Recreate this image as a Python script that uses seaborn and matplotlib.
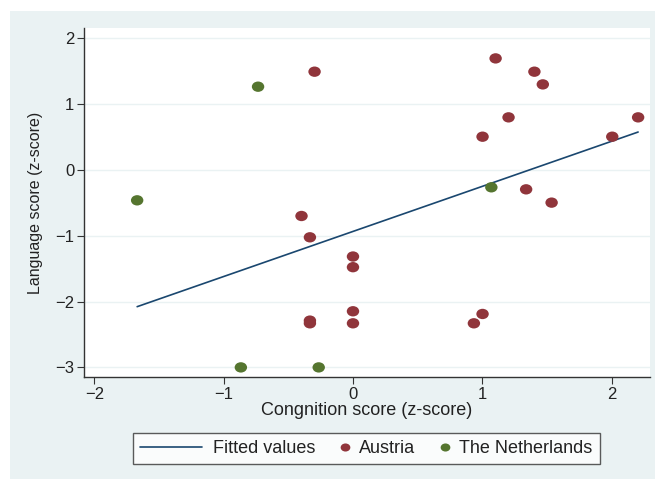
import numpy as np
import pandas as pd
import matplotlib
matplotlib.use("Agg")
import matplotlib.pyplot as plt
from matplotlib.patches import Rectangle
from matplotlib.lines import Line2D
from matplotlib.path import Path
from matplotlib.transforms import Affine2D
from matplotlib.legend_handler import HandlerLine2D
import seaborn as sns

# Standardised scores per child, by country
austria_cog = [-0.297, 1.103, 1.403, 1.468, 1.203, 2.205, 1.002, 2.005, 1.339, 1.536,
               -0.398, -0.333, 0.0, 0.0, 0.0, 0.0, -0.333, -0.333, 1.002, 0.935]
austria_lang = [1.494, 1.696, 1.494, 1.301, 0.80, 0.80, 0.506, 0.506, -0.294, -0.496,
                -0.699, -1.023, -1.315, -1.477, -2.147, -2.330, -2.289, -2.330, -2.188, -2.330]
nl_cog = [-1.669, -0.734, 1.070, -0.867, -0.265]
nl_lang = [-0.461, 1.266, -0.263, -3.0, -3.0]

x_ticks = [-2, -1, 0, 1, 2]
y_ticks = [-3, -2, -1, 0, 1, 2]

df = pd.DataFrame({
    "cog": austria_cog + nl_cog,
    "lang": austria_lang + nl_lang,
    "country": ["Austria"] * len(austria_cog) + ["The Netherlands"] * len(nl_cog),
})

BG = "#EAF2F3"
NAVY = "#1A476F"
MAROON = "#90353B"
FOREST = "#55752F"
INK = "#222222"

# slightly wide dot, as in the exported graph
DOT = Path.unit_circle().transformed(Affine2D().scale(1.2, 1.0))

sns.set_theme(style="white")
plt.rcParams["font.family"] = ["Liberation Sans", "DejaVu Sans"]

fig = plt.figure(figsize=(6.55, 4.79), dpi=100)
fig.patch.set_facecolor("white")
fig.add_artist(Rectangle((10 / 655, 0), 1 - 10 / 655, 1 - 11 / 479,
                         transform=fig.transFigure, facecolor=BG,
                         edgecolor="none", zorder=-10))

ax = fig.add_axes([84 / 655, 1 - 377 / 479, (649.5 - 84) / 655, (377 - 28) / 479])
ax.set_facecolor("white")

# Linear fit over the pooled sample
sns.regplot(data=df, x="cog", y="lang", ax=ax, scatter=False, ci=None,
            truncate=True, line_kws=dict(color=NAVY, lw=1.2))

sns.scatterplot(data=df, x="cog", y="lang", hue="country", ax=ax,
                palette={"Austria": MAROON, "The Netherlands": FOREST},
                marker=DOT, s=80, edgecolor="none", legend=False, zorder=3)

ax.set_xlim(-2.08, 2.293)
ax.set_ylim(-3.146, 2.158)
ax.set_xticks(x_ticks)
ax.set_yticks(y_ticks)
ax.set_xticklabels([f"{v}".replace("-", "\u2212") for v in x_ticks])
ax.set_yticklabels([f"{v}".replace("-", "\u2212") for v in y_ticks], rotation=0)
for y in y_ticks:
    ax.axhline(y, color=BG, lw=1.0, zorder=0)

for side in ["top", "right"]:
    ax.spines[side].set_visible(False)
for side in ["left", "bottom"]:
    ax.spines[side].set_color("#333333")
    ax.spines[side].set_linewidth(1.0)
ax.tick_params(axis="both", direction="out", length=5, width=0.8, color="#333333",
               labelsize=12, labelcolor=INK, bottom=True, left=True, pad=2)

ax.set_xlabel("Congnition score (z-score)", fontsize=13, color=INK, labelpad=0)
ax.set_ylabel("Language score (z-score)", fontsize=11.5, color=INK, labelpad=9)


class RightDot(HandlerLine2D):
    """Marker legend key drawn at the right end of the key area, next to its label."""

    def create_artists(self, legend, orig_handle, xdescent, ydescent,
                       width, height, fontsize, trans):
        y = (height - ydescent) / 2.0
        x = -xdescent + width - 2.5
        dot = Line2D([x], [y], ls="none", marker=DOT,
                     markersize=orig_handle.get_markersize(),
                     markerfacecolor=orig_handle.get_color(),
                     markeredgecolor="none")
        dot.set_transform(trans)
        return [dot]


fit_key = Line2D([0], [0], color=NAVY, lw=1.2)
at_key = Line2D([0], [0], marker=DOT, ls="none", color=MAROON, markersize=7)
nl_key = Line2D([0], [0], marker=DOT, ls="none", color=FOREST, markersize=7)

leg = fig.legend([fit_key, at_key, nl_key], ["Fitted values", "Austria", "The Netherlands"],
                 loc="center", bbox_to_anchor=(366.5 / 655, 1 - 448.5 / 479),
                 ncol=3, frameon=True, fancybox=False, fontsize=13,
                 handlelength=3.43, handletextpad=0.6, columnspacing=-1.6,
                 borderpad=0.4, borderaxespad=0,
                 handler_map={at_key: RightDot(), nl_key: RightDot()})
leg.get_frame().set_edgecolor("#333333")
leg.get_frame().set_facecolor("white")
leg.get_frame().set_linewidth(1.0)
for t in leg.get_texts():
    t.set_color(INK)

fig.savefig("out.png", dpi=100, facecolor=fig.get_facecolor())
